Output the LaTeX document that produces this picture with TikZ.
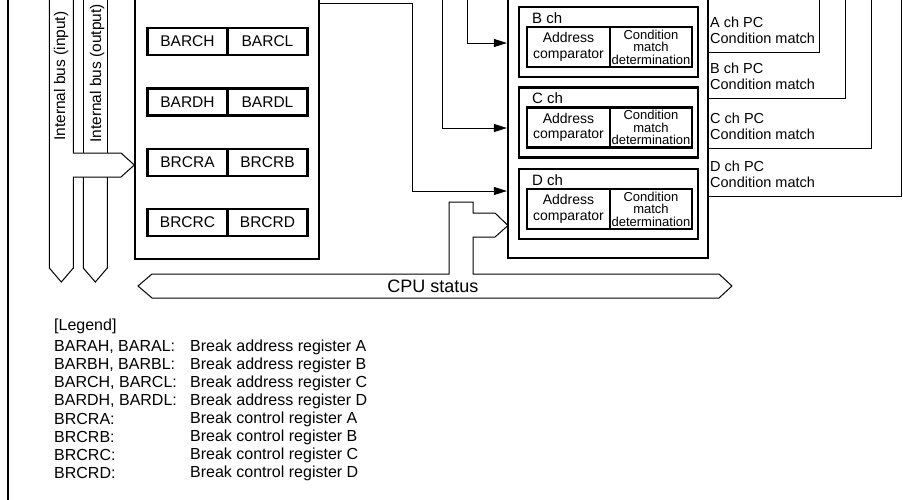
\documentclass[tikz,border=0pt]{standalone}
\usepackage{fontspec}
\setmainfont{Liberation Sans}
\usetikzlibrary{arrows.meta}

\tikzset{
  blk/.style={draw, line width=2.2pt, inner sep=0pt},
  regbox/.style={blk, minimum width=80pt, minimum height=27pt, font=\fontsize{15.5}{17}\selectfont},
  cmpbox/.style={blk, minimum width=83pt, minimum height=40pt, align=center, font=\fontsize{14}{15.5}\selectfont},
  condbox/.style={blk, minimum width=82pt, minimum height=40pt, align=center, font=\fontsize{13}{12.5}\selectfont},
  chbox/.style={blk, minimum width=179pt, minimum height=70pt},
  chlabel/.style={inner sep=0pt, anchor=west, font=\fontsize{15}{17}\selectfont},
  pctext/.style={inner sep=0pt, anchor=west, align=left, font=\fontsize{14.5}{16}\selectfont},
  legtext/.style={inner sep=0pt, anchor=west, font=\fontsize{16}{18}\selectfont},
  bustext/.style={inner sep=0pt, rotate=90, anchor=base west, font=\fontsize{15.5}{17}\selectfont},
  bus/.style={draw, line width=1pt, line join=miter},
  wire/.style={draw, line width=1pt},
  sig/.style={wire, -{Triangle[length=13pt,width=8pt]}}
}

\begin{document}
\begin{tikzpicture}[x=1pt,y=-1pt]
\useasboundingbox (0,0) rectangle (903,499);
\clip (0,0) rectangle (903,499);

\draw[line width=2.4pt] (8,-10) -- (8,510);

% register block
\node[blk, minimum width=184pt, minimum height=390pt] (regs) at (227,64) {};
\foreach \y/\hi/\lo in {41.5/BARCH/BARCL, 102/BARDH/BARDL, 162.5/BRCRA/BRCRB, 222.5/BRCRC/BRCRD} {
  \node[regbox] (\hi) at (187.5,\y) {\hi};
  \node[regbox] (\lo) at (267.5,\y) {\lo};
}

% internal buses
\draw[bus] (49.3,-10) -- (49.3,268) -- (61.3,282) -- (73.3,268) -- (73.3,177)
  -- (121,177) -- (134.3,165) -- (121,153) -- (73.3,153) -- (73.3,-10);
\draw[bus] (83.3,-10) -- (83.3,153);
\draw[bus] (83.3,177) -- (83.3,268) -- (95.3,282) -- (107.3,268) -- (107.3,177);
\draw[bus] (107.3,153) -- (107.3,-10);
\node[bustext] (inbus) at (65,141) {Internal bus (input)};
\node[bustext] (outbus) at (101,143) {Internal bus (output)};

% channel block
\node[blk, minimum width=200pt, minimum height=360pt] (chans) at (608,78) {};
\foreach \chn/\y in {B/42, C/122.5, D/204} {
  \node[chbox] (ch\chn) at (608.5,\y) {};
  \node[chlabel] (lab\chn) at (532,\y-24) {\chn{} ch};
  \node[cmpbox] (cmp\chn) at (568.5,\y+5) {Address\\comparator};
  \node[condbox] (cond\chn) at (651,\y+5) {Condition\\match\\determination};
}

% register block to channels
\coordinate (btap) at (467,-10);
\coordinate (bin) at (508,43);
\coordinate (ctap) at (442,-10);
\coordinate (cin) at (508,128);
\coordinate (dtap) at (412,3);
\coordinate (din) at (508,191);
\draw[sig] (btap) |- (chans.west |- bin);
\draw[sig] (ctap) |- (chans.west |- cin);
\draw[sig] (regs.east |- dtap) -- (dtap) |- (chans.west |- din);

% PC condition match outputs
\foreach \chn/\x/\y in {A/819/52, B/845/98, C/871/148, D/901/196} {
  \coordinate (pc\chn) at (\x,\y);
  \coordinate (pcup\chn) at (\x,-10);
  \draw[wire] (chans.east |- pc\chn) -- (pc\chn) -- (pcup\chn);
  \node[pctext] (pctxt\chn) at (710,\y-22) {\chn{} ch PC\\Condition match};
}

% CPU status bus
\draw[bus] (449,274) -- (152,274) -- (138,286) -- (152,298) -- (719,298) -- (732,286)
  -- (719,274) -- (473,274) -- (473,237) -- (495,237) -- (508,225.5) -- (495,213)
  -- (473,213) -- (473,202) -- (449,202) -- cycle;
\node[font=\fontsize{18}{20}\selectfont] (cpu) at (433,286) {CPU status};

% legend
\node[legtext] (legend) at (54,326) {[Legend]};
\foreach \k/\reg/\desc in {0/{BARAH, BARAL:}/Break address register A,
    1/{BARBH, BARBL:}/Break address register B,
    2/{BARCH, BARCL:}/Break address register C,
    3/{BARDH, BARDL:}/Break address register D,
    4/BRCRA:/Break control register A,
    5/BRCRB:/Break control register B,
    6/BRCRC:/Break control register C,
    7/BRCRD:/Break control register D} {
  \node[legtext] (legr\k) at (54,347+18*\k) {\reg};
  \node[legtext] (legd\k) at (190,347+18*\k) {\desc};
}
\end{tikzpicture}
\end{document}
